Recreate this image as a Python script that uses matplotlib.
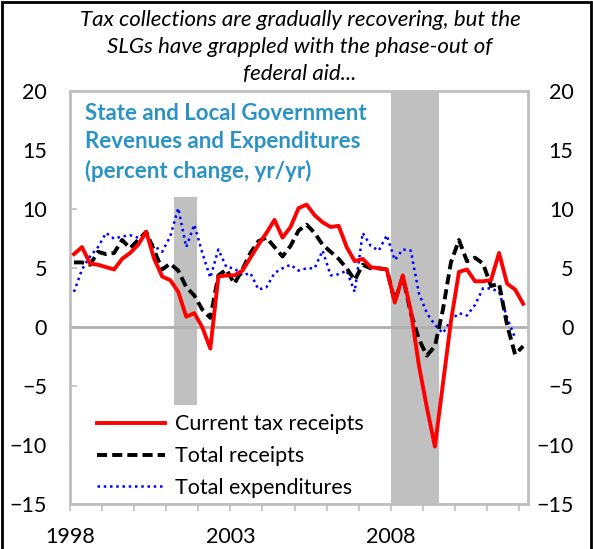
import matplotlib
matplotlib.use('Agg')
import matplotlib.pyplot as plt
import numpy as np
from matplotlib.patches import Rectangle

# quarterly data, 1998Q1 - 2012Q1 (percent change, yr/yr)
start_year = 1998
tax_receipts = [6.2, 6.8, 5.4, 5.3, 5.1, 4.9, 5.8, 6.3, 7.0, 8.1,
                5.8, 4.3, 4.0, 3.0, 0.9, 1.2, 0.0, -1.8, 4.3, 4.4,
                4.4, 4.8, 5.9, 7.0, 8.0, 9.1, 7.6, 8.5, 10.1, 10.4,
                9.5, 8.9, 8.5, 8.6, 6.8, 5.6, 5.8, 5.1, 5.0, 4.9,
                2.1, 4.4, 1.4, -3.2, -6.8, -10.1, -4.8, 0.5, 4.7, 4.9,
                3.9, 3.9, 4.0, 6.3, 3.7, 3.2, 2.0]
total_receipts = [5.5, 5.5, 5.3, 6.4, 6.2, 6.3, 7.4, 6.7, 7.4, 8.1,
                  6.5, 4.9, 5.4, 4.8, 3.4, 2.7, 1.5, 0.8, 4.4, 4.9,
                  3.7, 4.9, 6.3, 7.3, 7.6, 6.8, 6.0, 6.9, 8.2, 8.7,
                  8.0, 7.0, 6.4, 5.8, 5.0, 4.0, 5.3, 5.0, 5.0, 4.9,
                  2.2, 4.3, 1.2, -1.0, -2.4, -1.6, 1.5, 5.5, 7.4, 5.6,
                  5.9, 5.4, 3.5, 3.7, 0.2, -2.3, -1.6]
total_expenditures = [3.0, 4.9, 6.0, 6.8, 8.0, 7.5, 7.7, 7.8, 7.6, 7.6,
                      6.9, 6.4, 7.7, 10.1, 6.8, 8.7, 6.3, 4.2, 6.6, 5.1,
                      5.0, 4.4, 4.6, 3.2, 3.4, 4.6, 5.0, 5.3, 4.8, 5.0,
                      5.0, 6.5, 4.4, 4.5, 4.8, 3.0, 8.0, 6.9, 6.5, 7.8,
                      5.7, 6.6, 6.5, 2.9, 1.2, 0.2, -0.5, 0.6, 1.2, 1.0,
                      1.9, 3.3, 3.3, 3.0, 0.8, -0.9, np.nan]
recessions = [(2001.25, 2001.95), (2008.0, 2009.5)]
year_labels = {1998: '1998', 2003: '2003', 2008: '2008'}

x = start_year + (np.arange(len(tax_receipts)) + 0.5) / 4

plt.rcParams['font.family'] = ['Lato', 'DejaVu Sans']
grey = '#bfbfbf'
fs = 15.5

fig = plt.figure(figsize=(5.93, 5.49), dpi=100)
ax = fig.add_axes([0.118, 0.0814, 0.772, 0.7523])

for a, b in recessions:
    ax.axvspan(a, b, color='#c0c0c0', lw=0, zorder=1)

# white boxes for the inner title and the legend
ax.add_patch(Rectangle((0.004, 0.744), 0.695, 0.256, transform=ax.transAxes,
                       facecolor='white', edgecolor='none', zorder=2))
ax.add_patch(Rectangle((0.004, 0.0), 0.65, 0.24, transform=ax.transAxes,
                       facecolor='white', edgecolor='none', zorder=2))

ax.axhline(0, color='#b0b0b0', lw=2, zorder=2.5)

ax.plot(x, tax_receipts, color='#ff0000', lw=2.8, zorder=4,
        label='Current tax receipts')
ax.plot(x, total_receipts, color='black', lw=2.8, dashes=(2.6, 1.3), zorder=3.5,
        label='Total receipts')
ax.plot(x, total_expenditures, color='#0000ff', lw=1.8, linestyle=(0, (1, 1.5)),
        zorder=3, label='Total expenditures')

ax.set_xlim(1998, 2012.27)
ax.set_ylim(-15, 20)
ax.set_yticks(np.arange(-15, 21, 5))
years = np.arange(1998, 2013)
ax.set_xticks(years)
ax.set_xticklabels([year_labels.get(y, '') for y in years])

for s in ax.spines.values():
    s.set_color(grey)
    s.set_linewidth(2)

ax.tick_params(axis='x', direction='out', length=5, width=1.2, color=grey,
               labelsize=fs, pad=11.5)
ax.tick_params(axis='y', direction='in', length=5, width=1.2, color=grey,
               labelsize=fs, pad=16.5, right=True)

ax2 = ax.twinx()
ax2.set_ylim(-15, 20)
ax2.set_yticks(np.arange(-15, 21, 5))
ax2.tick_params(axis='y', direction='in', length=0, labelsize=fs, pad=33)
for lbl in ax2.get_yticklabels():
    lbl.set_ha('right')
for s in ax2.spines.values():
    s.set_visible(False)

ax.text(0.033, 0.972, 'State and Local Government\nRevenues and Expenditures\n(percent change, yr/yr)',
        transform=ax.transAxes, ha='left', va='top', fontsize=16,
        fontweight='bold', color='#2b93c4', linespacing=1.42, zorder=5)

leg = ax.legend(loc='lower left', bbox_to_anchor=(0.05, 0.005), frameon=False,
                fontsize=fs, handlelength=3.15, handletextpad=0.45,
                labelspacing=0.55, borderpad=0.2, borderaxespad=0)
leg.set_zorder(5)

fig.text(0.506, 0.982, 'Tax collections are gradually recovering, but the\n'
         'SLGs have grappled with the phase-out of\nfederal aid...',
         ha='center', va='top', fontsize=16, style='italic', linespacing=1.45)

fig.patches.append(Rectangle((0.003, -0.01), 0.994, 1.007, transform=fig.transFigure,
                             fill=False, edgecolor='black', lw=2))

fig.savefig('out.png', dpi=100)
